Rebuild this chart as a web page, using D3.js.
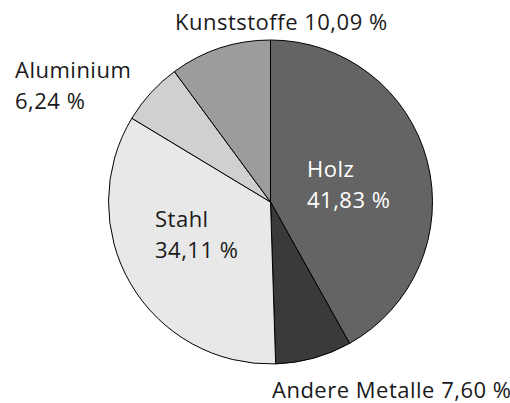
<!DOCTYPE html>
<html>
<head>
<meta charset="utf-8">
<script src="https://cdn.jsdelivr.net/npm/d3@7"></script>
<style>
  body { margin: 0; background: #fff; }
  text { font-family: "Open Sans", "Noto Sans", sans-serif; font-size: 22px; letter-spacing: 0.5px; }
</style>
</head>
<body>
<svg class="chart" width="510" height="403"></svg>
<script>
// Materialanteile (im Uhrzeigersinn ab 12 Uhr)
const kategorien = ["Holz", "Andere Metalle", "Stahl", "Aluminium", "Kunststoffe"]
const anteile = [41.83, 7.60, 34.11, 6.24, 10.09]
const farben = ["#646464", "#3a3a3a", "#e8e8e8", "#d0d0d0", "#9c9c9c"]

const daten = kategorien.map((k, i) => ({ name: k, wert: anteile[i] }))

const cx = 270.5, cy = 202, r = 162

const pie = d3.pie().sort(null).value(d => d.wert)
const arc = d3.arc().innerRadius(0).outerRadius(r)

const svg = d3.select('.chart')
const g = svg.append('g').attr('transform', `translate(${cx},${cy})`)

g.selectAll('path')
  .data(pie(daten))
  .join('path')
  .attr('d', arc)
  .attr('fill', (d, i) => farben[i])
  .attr('stroke', '#000')
  .attr('stroke-width', 1)

const fmt = v => d3.format('.2f')(v).replace('.', ',') + ' %'

// Beschriftungen: [Zeilen, x, y der ersten Grundlinie, Farbe]
const etiketten = [
  [[kategorien[4] + ' ' + fmt(anteile[4])], 175, 30, '#1a1a1a'],
  [[kategorien[3], fmt(anteile[3])], 15, 78, '#1a1a1a'],
  [[kategorien[0], fmt(anteile[0])], 307, 177, '#fff'],
  [[kategorien[2], fmt(anteile[2])], 155, 227, '#1a1a1a'],
  [[kategorien[1] + ' ' + fmt(anteile[1])], 272, 398, '#1a1a1a']
]

etiketten.forEach(([zeilen, x, y, farbe]) => {
  const t = svg.append('text').attr('x', x).attr('y', y).attr('fill', farbe)
  zeilen.forEach((z, i) => {
    t.append('tspan').attr('x', x).attr('dy', i ? 30.5 : 0).text(z)
  })
})
</script>
</body>
</html>
